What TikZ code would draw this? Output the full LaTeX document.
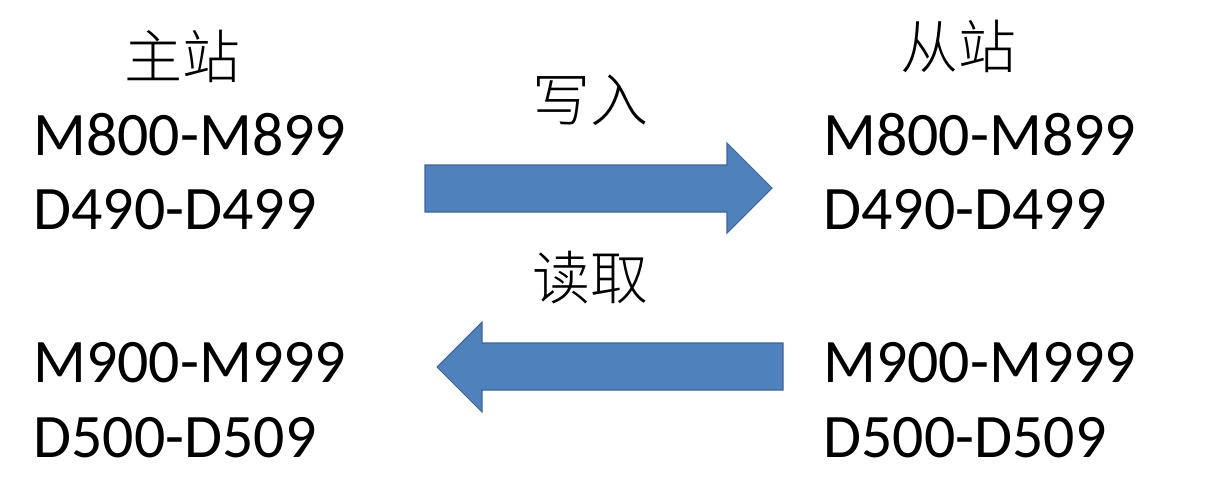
\documentclass[tikz,border=0pt]{standalone}
\usepackage{fontspec}
\setmainfont{Carlito}
\newfontfamily\cjk{Noto Sans CJK SC Light}
\usepackage{tikz}
\definecolor{arrowfill}{HTML}{4F81BD}
\definecolor{arrowline}{HTML}{3A66A0}
\tikzstyle{station} = [inner sep=0pt, font=\cjk\fontsize{33}{36}\selectfont]
\tikzstyle{regrange} = [inner sep=0pt, anchor=base west, font=\fontsize{35.2}{40}\selectfont]
\tikzstyle{blockarrow} = [fill=arrowfill, draw=arrowline, line width=0.6pt, line join=miter]

\begin{document}
\begin{tikzpicture}[x=0.02cm, y=-0.02cm]
\useasboundingbox (0,0) rectangle (1215,504);
% Nodes
\node (master) [station] at (182,56) {主站};
\node (slave) [station] at (958,46) {从站};
\node (write) [station] at (590,100) {写入};
\node (read) [station] at (590,278) {读取};
\node (mw1) [regrange] at (33,155) {M800-M899};
\node (mw2) [regrange] at (33,229) {D490-D499};
\node (mr1) [regrange] at (33,382) {M900-M999};
\node (mr2) [regrange] at (33,457) {D500-D509};
\node (sw1) [regrange] at (823,155) {M800-M899};
\node (sw2) [regrange] at (823,229) {D490-D499};
\node (sr1) [regrange] at (823,382) {M900-M999};
\node (sr2) [regrange] at (823,457) {D500-D509};

% Arrows
\draw [blockarrow] (425,165) -- (727,165) -- (727,143) -- (772,188) -- (727,233) -- (727,212) -- (425,212) -- cycle;
\draw [blockarrow] (783,343) -- (482,343) -- (482,322) -- (437,367) -- (482,412) -- (482,390) -- (783,390) -- cycle;
\end{tikzpicture}
\end{document}
